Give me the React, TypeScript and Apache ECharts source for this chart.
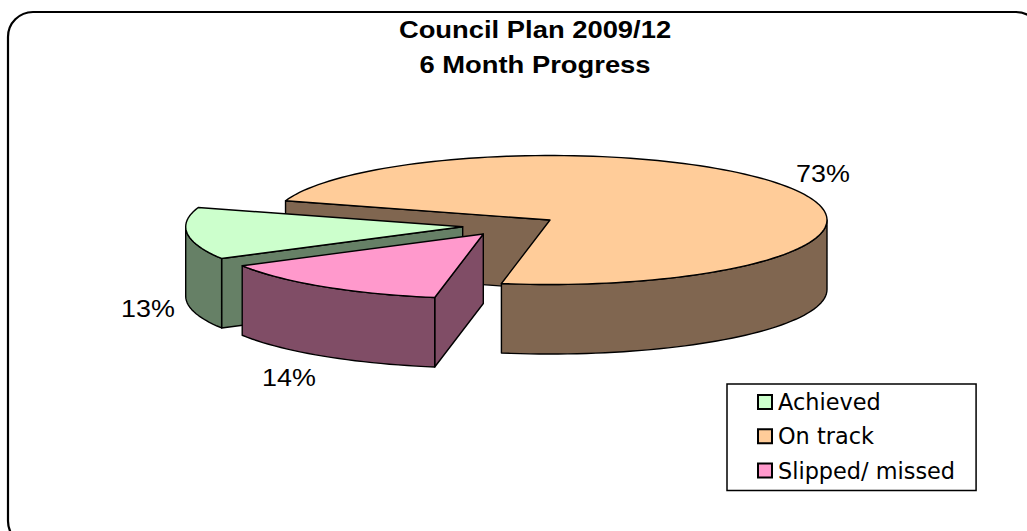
import React, { useEffect, useRef } from "react";
import * as echarts from "echarts";

const categories = ["Achieved", "On track", "Slipped/ missed"];
const shares = [13, 73, 14];
const percentLabels = ["13%", "73%", "14%"];
const topColors = ["#CCFFCC", "#FFCC99", "#FF99CC"];
const sideColors = ["#668066", "#806650", "#804D66"];
const titleLines = ["Council Plan 2009/12", "6 Month Progress"];

// pie geometry
const RX = 277;
const RY = 64.5;
const DEPTH = 69.5;
const FIRST_ANGLE = 150.5;
const apexes = [
  [462.7, 226.7],
  [550, 220],
  [483.3, 234],
];
const labelCentres = [
  [148, 308.5],
  [823, 173.5],
  [289, 377.5],
];
const drawOrder = [2, 1, 3];

const total = shares.reduce((a, b) => a + b, 0);
const rad = (d: number) => (d * Math.PI) / 180;

function arcPoints(cx: number, cy: number, a: number, b: number) {
  const n = Math.max(2, Math.ceil(Math.abs(b - a) / 2));
  const pts: number[][] = [];
  for (let i = 0; i <= n; i++) {
    const t = rad(a + ((b - a) * i) / n);
    pts.push([cx + RX * Math.cos(t), cy + RY * Math.sin(t)]);
  }
  return pts;
}

function sliceAngles(i: number) {
  let a = FIRST_ANGLE;
  for (let k = 0; k < i; k++) a += (shares[k] / total) * 360;
  return [a, a + (shares[i] / total) * 360];
}

function wedgeRenderer(i: number) {
  return () => {
    const [cx, cy] = apexes[i];
    const [a, b] = sliceAngles(i);
    const line = { stroke: "#000", lineWidth: 1.4, lineJoin: "round" };
    const side = { ...line, fill: sideColors[i] };
    const children: any[] = [];
    const edge = (t: number) => [cx + RX * Math.cos(rad(t)), cy + RY * Math.sin(rad(t))];
    const cutFace = (t: number) => {
      const p = edge(t);
      children.push({
        type: "polygon",
        shape: { points: [[cx, cy], p, [p[0], p[1] + DEPTH], [cx, cy + DEPTH]] },
        style: side,
      });
    };
    if (Math.sin(rad(a - 90)) > 0) cutFace(a);
    if (Math.sin(rad(b + 90)) > 0) cutFace(b);
    // outer wall: only the front half of the rim is seen
    for (let k = 0; k <= 1; k++) {
      const lo = Math.max(a, 360 * k);
      const hi = Math.min(b, 360 * k + 180);
      if (hi > lo) {
        const upper = arcPoints(cx, cy, lo, hi);
        const lower = upper.map((p) => [p[0], p[1] + DEPTH]).reverse();
        children.push({ type: "polygon", shape: { points: [...upper, ...lower] }, style: side });
      }
    }
    children.push({
      type: "polygon",
      shape: { points: [[cx, cy], ...arcPoints(cx, cy, a, b)] },
      style: { ...line, fill: topColors[i] },
    });
    children.push({
      type: "text",
      x: labelCentres[i][0],
      y: labelCentres[i][1],
      scaleX: 1.12,
      style: {
        text: percentLabels[i],
        fill: "#000",
        font: '24px "Liberation Sans"',
        textAlign: "center",
        textVerticalAlign: "middle",
      },
    });
    return { type: "group", children };
  };
}

export default function App() {
  const ref = useRef<HTMLDivElement>(null);
  useEffect(() => {
    document.body.style.margin = "0";
    document.body.style.overflow = "hidden";
    const chart = echarts.init(ref.current!, null, { renderer: "svg" });
    chart.setOption({
      animation: false,
      backgroundColor: "#fff",
      legend: {
        data: categories,
        orient: "vertical",
        left: 727,
        top: 384,
        padding: [7, 21, 9, 30],
        itemWidth: 14,
        itemHeight: 14,
        itemGap: 12.3,
        icon: "rect",
        selectedMode: false,
        borderColor: "#000",
        borderWidth: 1.5,
        textStyle: {
          fontFamily: "DejaVu Sans",
          fontSize: 22.4,
          color: "#000",
          lineHeight: 22,
          padding: [0, 0, 0, 1],
        },
      },
      graphic: [
        {
          type: "rect",
          z: -1,
          shape: { x: 8, y: 12, width: 1033, height: 534, r: 25 },
          style: { fill: "#fff", stroke: "#000", lineWidth: 2.2 },
        },
        ...titleLines.map((text, i) => ({
          type: "text",
          x: 535,
          y: 30 + i * 35,
          scaleX: 1.165,
          style: {
            text,
            fill: "#000",
            font: 'bold 23.5px "Liberation Sans"',
            textAlign: "center",
            textVerticalAlign: "middle",
          },
        })),
      ],
      series: categories.map((name, i) => ({
        type: "custom",
        name,
        coordinateSystem: "none",
        z: drawOrder[i],
        data: [shares[i]],
        itemStyle: { color: topColors[i], borderColor: "#000", borderWidth: 1.5 },
        renderItem: wedgeRenderer(i),
      })),
    });
    return () => chart.dispose();
  }, []);
  return <div ref={ref} style={{ width: 1027, height: 531 }} />;
}
